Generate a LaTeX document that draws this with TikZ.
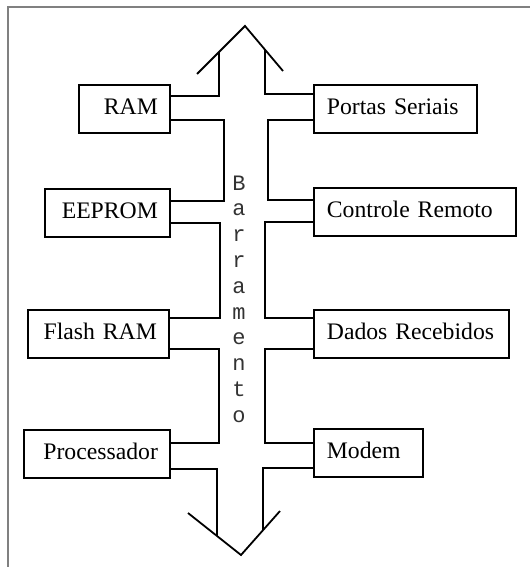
\documentclass[tikz,border=0pt]{standalone}
\usepackage{fontspec}
\setmainfont{Liberation Serif}
\setmonofont{Liberation Mono}
\usepackage{tikz}
\usepackage{xcolor}

\begin{document}
\begin{tikzpicture}[x=1pt,y=-1pt,
	linha/.style={line width=1.8pt},
	modulo/.style={draw,line width=1.8pt,minimum height=48pt,inner ysep=0pt,anchor=north west,
		text height=17pt,text depth=5pt,font=\fontsize{23.7}{28}\selectfont},
	esq/.style={modulo,align=right,inner xsep=12pt,text width=#1},
	dir/.style={modulo,align=left,inner xsep=13pt,text width=#1},
	letra/.style={anchor=base,inner sep=0pt,text=black!80,font=\ttfamily\fontsize{22}{26}\selectfont}]
	\useasboundingbox (0,0) rectangle (530,567);

	\draw[gray,line width=1.6pt] (8,567) -- (8,7) -- (530,7); % Moldura

	% Modulos
	\node[esq=67pt] (ram) at (78,84) {RAM};
	\node[esq=101pt] (eeprom) at (44,188) {EEPROM};
	\node[esq=117pt] (flash) at (27,309) {Flash RAM};
	\node[esq=122pt] (proc) at (23,429) {Processador};
	\node[dir=137pt] (portas) at (313,84) {Portas Seriais};
	\node[dir=176pt] (controle) at (313,187) {Controle Remoto};
	\node[dir=169pt] (dados) at (313,309) {Dados Recebidos};
	\node[dir=83pt] (modem) at (313,428) {Modem};

	% Pontas do barramento
	\coordinate (pontaC) at (245,26);
	\coordinate (asaCE) at (197,74);
	\coordinate (asaCD) at (283,71);
	\coordinate (ombroE) at (219,52);
	\coordinate (ombroD) at (265,50);
	\coordinate (pontaB) at (241,555);
	\coordinate (asaBE) at (188,513);
	\coordinate (asaBD) at (280,511);
	\coordinate (caudaE) at (217,536);
	\coordinate (caudaD) at (263,530);

	\draw[linha] (asaCE) -- (pontaC) -- (asaCD);
	\draw[linha] (asaBE) -- (pontaB) -- (asaBD);

	% Lado esquerdo
	\draw[linha] ([yshift=-12pt]ram.north east) -| (ombroE);
	\draw[linha] ([yshift=14pt]ram.south east) -- ++(53,0) |- ([yshift=-13pt]eeprom.north east);
	\draw[linha] ([yshift=15pt]eeprom.south east) -- ++(49,0) |- ([yshift=-9pt]flash.north east);
	\draw[linha] ([yshift=10pt]flash.south east) -- ++(49,0) |- ([yshift=-14pt]proc.north east);
	\draw[linha] ([yshift=10pt]proc.south east) -| (caudaE);

	% Lado direito
	\draw[linha] ([yshift=-10pt]portas.north west) -| (ombroD);
	\draw[linha] ([yshift=14pt]portas.south west) -- ++(-45,0) |- ([yshift=-13pt]controle.north west);
	\draw[linha] ([yshift=15pt]controle.south west) -- ++(-48,0) |- ([yshift=-9pt]dados.north west);
	\draw[linha] ([yshift=10pt]dados.south west) -- ++(-48,0) |- ([yshift=-15pt]modem.north west);
	\draw[linha] ([yshift=10pt]modem.south west) -| (caudaD);

	% Barramento
	\foreach \l [count=\i from 0] in {B,a,r,r,a,m,e,n,t,o}
		\node[letra] (b\i) at (239,190+25.8*\i) {\l};
\end{tikzpicture}
\end{document}
